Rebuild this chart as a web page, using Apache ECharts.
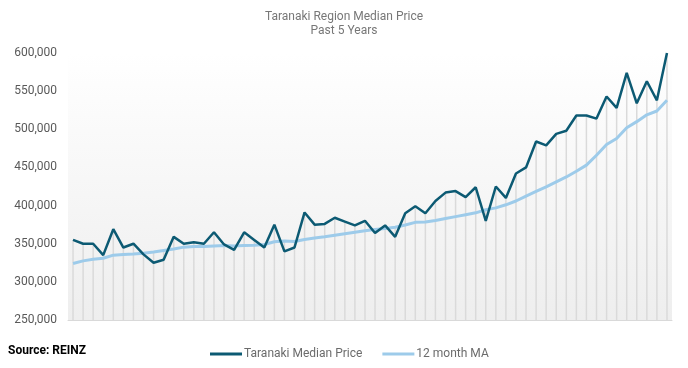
<!DOCTYPE html>
<html>
<head>
<meta charset="utf-8">
<script src="https://cdn.jsdelivr.net/npm/echarts@6/dist/echarts.min.js"></script>
<style>
html,body{margin:0;padding:0;background:#fff;}
#main{width:688px;height:368px;}
</style>
</head>
<body>
<div id="main"></div>
<script>
// ---- data ----
const months = [
  'M01','M02','M03','M04','M05','M06','M07','M08','M09','M10','M11','M12',
  'M13','M14','M15','M16','M17','M18','M19','M20','M21','M22','M23','M24',
  'M25','M26','M27','M28','M29','M30','M31','M32','M33','M34','M35','M36',
  'M37','M38','M39','M40','M41','M42','M43','M44','M45','M46','M47','M48',
  'M49','M50','M51','M52','M53','M54','M55','M56','M57','M58','M59','M60'
];
const medianPrice = [
  355000,350000,350000,335000,369000,345000,350000,336000,325000,329000,359000,350000,
  352000,350000,365000,349000,342000,365000,355000,345000,375000,340000,345000,391000,
  375000,376000,384000,379000,374000,380000,364000,374000,359000,390000,399000,390000,
  406000,417000,419000,411000,424000,380000,425000,410000,442000,450000,484000,479000,
  494000,498000,518000,518000,514000,543000,528000,574000,534000,563000,538000,600000
];
const movingAvg = [
  324000,327500,329500,331000,335000,336000,336500,337500,339000,341000,343000,345500,
  346500,346500,347000,347500,347000,347500,348000,349000,352500,353500,353000,355500,
  357500,359000,361000,363000,365000,367000,368500,370000,371500,374500,378000,378500,
  380500,383000,385500,388000,390500,394500,397000,401000,406000,412500,418500,424500,
  431000,437500,445000,453000,466000,480000,488000,502000,510000,519000,524000,538000
];
const yTicks = { min: 250000, max: 600000, step: 50000 };
const seriesNames = ['Taranaki Median Price', '12 month MA'];
const titleLines = ['Taranaki Region Median Price', 'Past 5 Years'];
const sourceText = 'Source: REINZ';

const dropLines = medianPrice.map((v, i) => Math.max(v, movingAvg[i]));

const chart = echarts.init(document.getElementById('main'), null, {renderer: 'canvas'});
const font = 'Roboto, "Liberation Sans", sans-serif';
chart.setOption({
  animation: false,
  backgroundColor: '#ffffff',
  title: {
    text: titleLines.join('\n'),
    left: 'center',
    top: 5,
    textStyle: {fontFamily: font, fontSize: 12, fontWeight: 'normal', color: '#777777', lineHeight: 14}
  },
  grid: {
    left: 68, right: 16, top: 53, bottom: 48,
    show: true, borderWidth: 0,
    backgroundColor: new echarts.graphic.LinearGradient(0, 0, 0, 1, [
      {offset: 0, color: '#ffffff'},
      {offset: 1, color: '#eeeeee'}
    ])
  },
  legend: {
    data: seriesNames,
    left: 205, top: 343,
    icon: 'rect', itemWidth: 32, itemHeight: 3, itemGap: 20,
    textStyle: {fontFamily: font, fontSize: 12, color: '#6b6b6b', padding: [0, 0, 0, -3]}
  },
  xAxis: {
    type: 'category', data: months, boundaryGap: true,
    axisLine: {show: true, lineStyle: {color: '#d9d9d9', width: 1}},
    axisTick: {show: false}, axisLabel: {show: false}, splitLine: {show: false}
  },
  yAxis: {
    type: 'value', min: yTicks.min, max: yTicks.max, interval: yTicks.step,
    axisLine: {show: false}, axisTick: {show: false}, splitLine: {show: false},
    axisLabel: {
      fontFamily: font, fontSize: 12, color: '#595959', margin: 11,
      formatter: v => v.toLocaleString('en-US')
    }
  },
  graphic: [{
    type: 'text', left: 8, top: 345,
    style: {text: sourceText, fontFamily: font, fontSize: 12, fontWeight: 'bold', fill: '#000000'}
  }],
  series: [
    {
      name: 'drop', type: 'bar', data: dropLines, barWidth: 1.5, silent: true,
      itemStyle: {color: '#dadada'}, z: 1, legendHoverLink: false
    },
    {
      name: seriesNames[1], type: 'line', data: movingAvg, symbol: 'none', smooth: false,
      lineStyle: {color: '#9dcbea', width: 3}, itemStyle: {color: '#9dcbea'}, z: 3
    },
    {
      name: seriesNames[0], type: 'line', data: medianPrice, symbol: 'none',
      lineStyle: {color: '#0c5a73', width: 2.5}, itemStyle: {color: '#0c5a73'}, z: 4
    }
  ]
});
</script>
</body>
</html>
